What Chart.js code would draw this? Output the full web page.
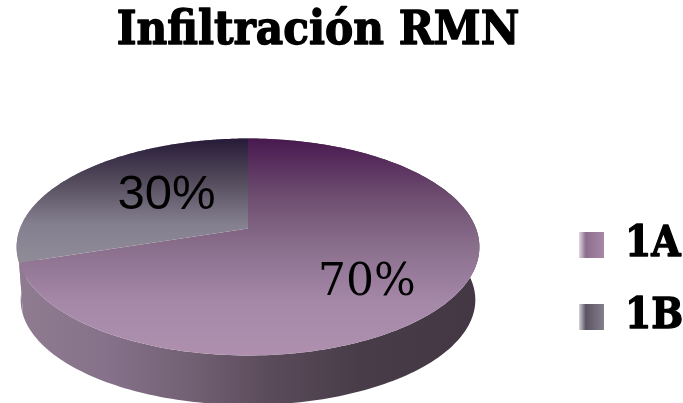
<!DOCTYPE html>
<html><head><meta charset="utf-8">
<style>html,body{margin:0;padding:0;background:#fff}#w{position:relative;width:683px;height:403px}</style>
<script src="https://cdn.jsdelivr.net/npm/chart.js@4/dist/chart.umd.min.js"></script>
</head><body><div id="w"><canvas id="c" width="683" height="403"></canvas></div>
<script>
const categories = ['1A', '1B'];
const values = [70, 30];
const titleText = 'Infiltración RMN';
const labelRadius = [0.668, 0.527];
const labelLift = [13, 17];
const labelFonts = ['44px "DejaVu Serif"', '49px "Liberation Sans"'];
const labelTurn = 8 * Math.PI / 180;

const K = -0.1705;
const topDisc = {cx: 248, cy: 228.5, rx: 228, ry: 105.3};
const lowDisc = {cx: 248, cy: 282, rx: 224, ry: 102};
function project(d, a, r) {
  const u = Math.cos(a) * r, v = Math.sin(a) * r, q = 1 + K * v;
  return [d.cx + d.rx * u / q, d.cy + d.ry * v / q];
}
function vGrad(ctx, y0, y1, stops) {
  const g = ctx.createLinearGradient(0, y0, 0, y1);
  stops.forEach(s => g.addColorStop(s[0], s[1]));
  return g;
}
const titleSize = 47, legendSize = 42, legendBox = 25, legendGap = 30;
const piePlugin = {
  id: 'perspectivePie',
  afterLayout(chart) {
    const lg = chart.legend, h = lg.bottom - lg.top;
    const newLeft = 579 - legendGap, newTop = 281 - h / 2;
    const dx = newLeft - lg.left, dy = newTop - lg.top;
    lg.left = newLeft; lg.right = newLeft + lg.width;
    lg.top = newTop; lg.bottom = newTop + h;
    lg.legendHitBoxes.forEach(b => { b.left += dx; b.top += dy; });
    const tb = chart.titleBlock, shift = 318 - (tb.left + tb.right) / 2;
    tb.left += shift; tb.right += shift;
  },
  beforeDatasetsDraw(chart) {
    const ctx = chart.ctx, arcs = chart.getDatasetMeta(0).data;
    ctx.save();
    const wall = ctx.createLinearGradient(17, 0, 479, 0);
    [[0, '#8f7c90'], [0.2, '#85728a'], [0.4, '#6f5d70'], [0.55, '#5a4b5a'], [0.75, '#483c48'], [1, '#423742']]
      .forEach(s => wall.addColorStop(s[0], s[1]));
    ctx.fillStyle = wall;
    arcs.forEach(el => {
      ctx.beginPath();
      const n = 200, a0 = el.startAngle, a1 = el.endAngle;
      for (let i = 0; i <= n; i++) { const p = project(topDisc, a0 + (a1 - a0) * i / n, 1); i ? ctx.lineTo(p[0], p[1]) : ctx.moveTo(p[0], p[1]); }
      for (let i = n; i >= 0; i--) { const p = project(lowDisc, a0 + (a1 - a0) * i / n, 1); ctx.lineTo(p[0], p[1]); }
      ctx.closePath(); ctx.fill();
    });
    const fills = [
      vGrad(ctx, 138, 355, [[0, '#48184f'], [0.25, '#6b4a6e'], [0.5, '#8a6f8c'], [0.75, '#a587a8'], [1, '#ae90ae']]),
      vGrad(ctx, 138, 262, [[0, '#261a38'], [0.35, '#544c5c'], [0.7, '#858090'], [1, '#8f8b97']])
    ];
    arcs.forEach((el, idx) => {
      ctx.fillStyle = fills[idx];
      ctx.beginPath();
      const n = 200, a0 = el.startAngle, a1 = el.endAngle;
      ctx.moveTo(topDisc.cx, topDisc.cy);
      for (let i = 0; i <= n; i++) { const p = project(topDisc, a0 + (a1 - a0) * i / n, 1); ctx.lineTo(p[0], p[1]); }
      ctx.closePath(); ctx.fill();
    });
    ctx.restore();
  },
  afterDatasetsDraw(chart) {
    const ctx = chart.ctx, arcs = chart.getDatasetMeta(0).data;
    ctx.save();
    ctx.fillStyle = '#000'; ctx.textAlign = 'center'; ctx.textBaseline = 'alphabetic';
    arcs.forEach((el, i) => {
      const p = project(topDisc, (el.startAngle + el.endAngle) / 2 + labelTurn, labelRadius[i]);
      ctx.font = labelFonts[i];
      ctx.fillText(values[i] + '%', p[0], p[1] + labelLift[i]);
    });
    ctx.restore();
  },
  afterDraw(chart) {
    const ctx = chart.ctx, tb = chart.titleBlock, lg = chart.legend;
    ctx.save();
    ctx.strokeStyle = '#000'; ctx.lineWidth = 1.3; ctx.lineJoin = 'round'; ctx.textBaseline = 'middle';
    ctx.font = 'bold ' + titleSize + 'px "DejaVu Serif Condensed"'; ctx.textAlign = 'center';
    ctx.strokeText(titleText, (tb.left + tb.right) / 2, tb.top + (tb.bottom - tb.top) / 2);
    ctx.font = 'bold ' + legendSize + 'px "DejaVu Serif Condensed"'; ctx.textAlign = 'left';
    const textX = lg.left + legendGap + legendBox + legendSize / 2;
    lg.legendHitBoxes.forEach((b, i) => ctx.strokeText(categories[i], textX, b.top + b.height / 2));
    ctx.restore();
  }
};
const c = document.getElementById('c');
const swatch = c.getContext('2d').createLinearGradient(579, 0, 606, 0);
const swatchA = c.getContext('2d').createLinearGradient(579, 0, 606, 0);
[[0, '#e2d6e2'], [0.25, '#8c6f8e'], [1, '#a98aa9']].forEach(s => swatchA.addColorStop(s[0], s[1]));
[[0, '#d4d2d8'], [0.25, '#5c5464'], [1, '#88848f']].forEach(s => swatch.addColorStop(s[0], s[1]));
new Chart(c, {
  type: 'pie',
  data: {labels: categories, datasets: [{data: values, backgroundColor: 'rgba(0,0,0,0)', borderWidth: 0}]},
  options: {
    responsive: false, animation: false,
    layout: {padding: {right: 4, top: 4}},
    plugins: {
      title: {display: true, text: titleText, color: '#000', padding: {top: 0, bottom: 0},
        font: {family: '"DejaVu Serif Condensed"', weight: 'bold', size: titleSize}},
      tooltip: {enabled: false},
      legend: {position: 'right',
        labels: {boxWidth: legendBox, boxHeight: 26, padding: legendGap, color: '#000',
          font: {family: '"DejaVu Serif Condensed"', weight: 'bold', size: legendSize},
          generateLabels: chart => categories.map((t, i) => ({text: t, fillStyle: i ? swatch : swatchA, lineWidth: 0, strokeStyle: 'rgba(0,0,0,0)', index: i}))}}
    }
  },
  plugins: [piePlugin]
});
</script></body></html>
